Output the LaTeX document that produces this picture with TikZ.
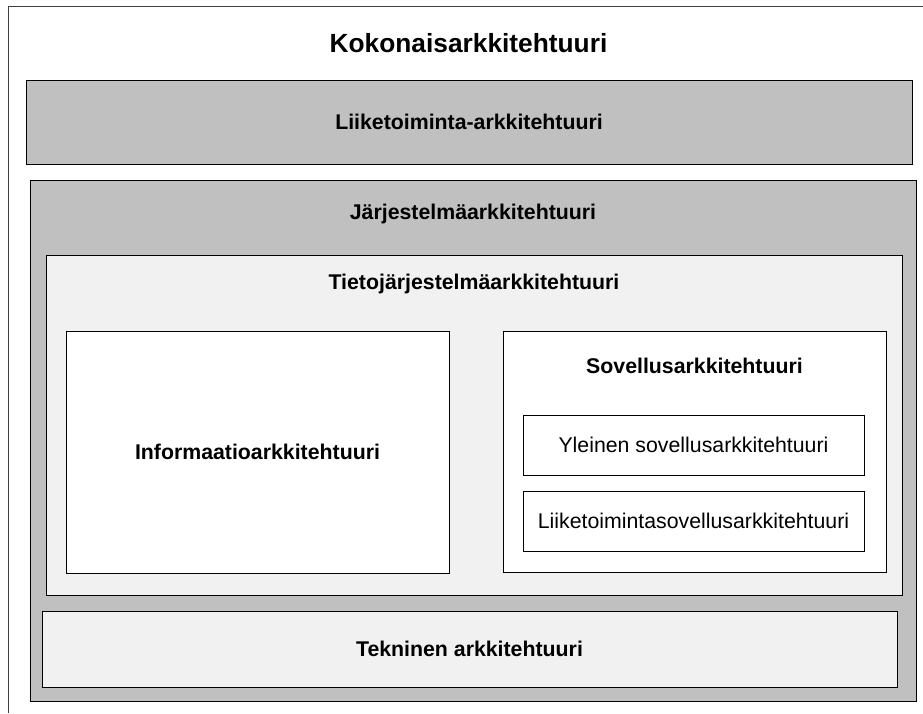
\documentclass[tikz,border=0pt]{standalone}
\usepackage{fontspec}
\setmainfont{Liberation Sans}
\usetikzlibrary{shadows}
\definecolor{midgray}{HTML}{C0C0C0}
\definecolor{palegray}{HTML}{F1F1F1}
\definecolor{shadowgray}{HTML}{7F7F7F}
\begin{document}
\begin{tikzpicture}[x=1pt,y=-1pt,
  layer/.style={draw=black, line width=0.8pt, inner sep=0pt, rectangle,
    drop shadow={shadow xshift=1.2pt, shadow yshift=-1.2pt, fill=shadowgray, opacity=1}},
  dark/.style={layer, fill=midgray},
  pale/.style={layer, fill=palegray},
  plain/.style={layer, fill=white},
  boldlabel/.style={font=\fontsize{21.3}{25}\selectfont\bfseries, inner sep=0pt},
  textlabel/.style={font=\fontsize{21.3}{25}\selectfont},
  titlelabel/.style={font=\fontsize{26.3}{30}\selectfont\bfseries, inner sep=0pt}]
  \useasboundingbox (0,0) rectangle (923,713);
  \fill[white] (0,0) rectangle (923,713);

  % overall frame (open towards the right and bottom)
  \coordinate (frameBL) at (8,713);
  \coordinate (frameTL) at (8,6);
  \coordinate (frameTR) at (923,6);
  \draw[line width=1pt, draw=black!75] (frameBL) -- (frameTL) -- (frameTR);

  \node[titlelabel] (title) at (468.5,43) {Kokonaisarkkitehtuuri};

  % business architecture
  \node[dark, minimum width=886pt, minimum height=84pt, boldlabel, inner sep=0pt,
        font=\fontsize{21.3}{25}\selectfont\bfseries] (business) at (469,122) {Liiketoiminta-arkkitehtuuri};

  % system architecture
  \node[dark, minimum width=886pt, minimum height=521pt] (system) at (473,440.5) {};
  \node[boldlabel] (systemtitle) at (473,214) {Järjestelmäarkkitehtuuri};

  % information systems architecture
  \node[pale, minimum width=856pt, minimum height=340pt] (infosys) at (474,425) {};
  \node[boldlabel] (infosystitle) at (474,284) {Tietojärjestelmäarkkitehtuuri};

  % information architecture
  \node[plain, minimum width=383pt, minimum height=242pt,
        font=\fontsize{21.3}{25}\selectfont\bfseries] (info) at (257.5,452) {Informaatioarkkitehtuuri};

  % application architecture
  \node[plain, minimum width=383pt, minimum height=241pt] (apps) at (694.5,451.5) {};
  \node[boldlabel] (appstitle) at (694.5,366) {Sovellusarkkitehtuuri};
  \node[plain, minimum width=341pt, minimum height=60pt,
        font=\fontsize{21.3}{25}\selectfont] (general) at (693.5,445) {Yleinen sovellusarkkitehtuuri};
  \node[plain, minimum width=341pt, minimum height=60pt,
        font=\fontsize{21.3}{25}\selectfont] (bizapps) at (693.5,521) {Liiketoimintasovellusarkkitehtuuri};

  % technical architecture
  \node[pale, minimum width=855pt, minimum height=76pt,
        font=\fontsize{21.3}{25}\selectfont\bfseries] (tech) at (469.5,649) {Tekninen arkkitehtuuri};
\end{tikzpicture}
\end{document}
